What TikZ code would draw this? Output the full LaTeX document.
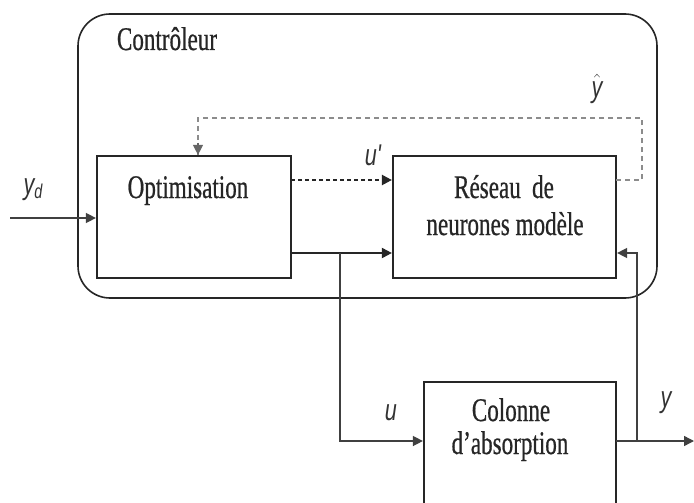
\documentclass[tikz,border=0pt]{standalone}
\usepackage{fontspec}
\usetikzlibrary{arrows.meta,calc}
\newfontfamily\boxfont[FakeStretch=0.70,FakeBold=0.6]{Liberation Serif}
\newfontfamily\labfont[FakeStretch=0.72]{Liberation Sans}
\begin{document}
\begin{tikzpicture}[x=1pt,y=-1pt,
  blk/.style={draw=black!85,line width=2.2pt,rectangle,inner sep=0pt},
  txt/.style={font=\boxfont\fontsize{33}{37}\selectfont,anchor=base,inner sep=0pt,text=black!85},
  lbl/.style={font=\labfont\itshape\fontsize{30}{32}\selectfont,inner sep=0pt,text=black!80},
  arr/.style={-{Triangle[length=10pt,width=10pt]}},
  wire/.style={draw=black!75,line width=1.4pt},
  mainwire/.style={draw=black!85,line width=2pt},
  dashwire/.style={draw=black!85,line width=2.2pt,dash pattern=on 4pt off 3pt},
  graywire/.style={draw=black!45,line width=1.5pt,dash pattern=on 5pt off 4pt}]
\useasboundingbox (0,0) rectangle (694,503);
% controller
\draw[draw=black!85,line width=1.6pt,rounded corners=32pt] (78,14) rectangle (657,298);
\node[txt] (ctl) at (167,50) {Contrôleur};
% blocks
\node[blk,minimum width=194pt,minimum height=122pt] (opt) at (194,217) {};
\node[blk,minimum width=223pt,minimum height=122pt] (res) at (504.5,217) {};
\node[blk,minimum width=192pt,minimum height=124pt] (col) at (520,444) {};
\node[txt] (optl) at (188,198) {Optimisation};
\node[txt] (resl1) at (504,198) {Réseau\, de};
\node[txt] (resl2) at (505,235) {neurones modèle};
\node[txt] (coll1) at (511,421) {Colonne};
\node[txt] (coll2) at (510,454) {d’absorption};
% labels
\node[lbl] (yd) at (33,190) {y\raisebox{-4pt}{\fontsize{20}{22}\selectfont d}};
\node[lbl] (up) at (373,155) {u'};
\node[lbl] (yh) at (597,89) {$\hat{\mbox{\labfont\itshape\fontsize{30}{32}\selectfont y}}$};
\node[lbl] (ul) at (391,413) {u};
\node[lbl] (yl) at (666,403) {y};
% coordinates
\coordinate (yin) at (10,218);
\coordinate (o1) at (291,180);
\coordinate (o2) at (291,253);
\coordinate (br) at (340,253);
\coordinate (bd) at (340,441);
\coordinate (c1) at (616,441);
\coordinate (yo) at (637,441);
\coordinate (yup) at (637,253);
\coordinate (yend) at (694,441);
\coordinate (r1) at (616,180);
\coordinate (g1) at (642,180);
\coordinate (g2) at (642,118);
\coordinate (g3) at (198,118);
% connectors
\draw[wire,arr] (yin) -- (yin -| opt.west);
\draw[dashwire,arr] (o1) -- (o1 -| res.west);
\draw[mainwire,arr] (o2) -- (o2 -| res.west);
\draw[wire,arr] (br) -- (bd) -- (bd -| col.west);
\draw[wire,arr] (c1) -- (yend);
\draw[wire,arr] (yo) -- (yup) -- (yup -| res.east);
\draw[graywire] (r1) -- (g1) -- (g2) -- (g3) -- (g3 |- opt.north);
\draw[draw=black!60,line width=1.2pt,arr] ($(g3 |- opt.north)+(0,-12)$) -- (g3 |- opt.north);
\end{tikzpicture}
\end{document}
